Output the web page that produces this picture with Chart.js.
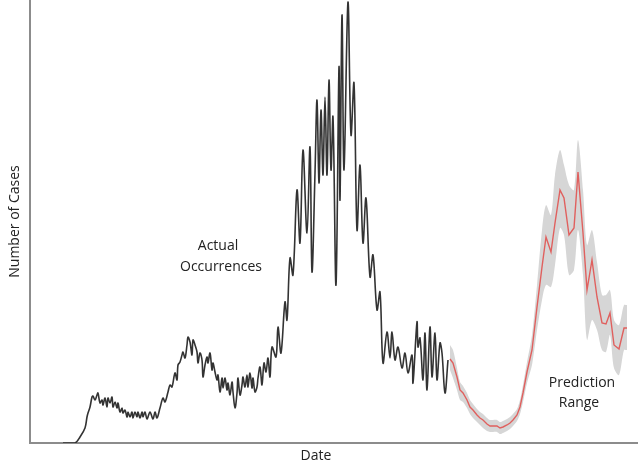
<!DOCTYPE html>
<html>
<head>
<meta charset="utf-8">
<script src="https://cdn.jsdelivr.net/npm/chart.js@4.4.0/dist/chart.umd.min.js"></script>
<style>
    html, body { margin: 0; padding: 0; background: #FFFFFF; }
    #wrap { position: relative; width: 641px; height: 468px; }
</style>
</head>
<body>
<div id="wrap"><canvas id="casesChart"></canvas></div>
<script>
// ==========================================
// Cases - actual occurrences vs prediction
// ==========================================

// actual occurrences (day index, number of cases)
const actualDays = [
    33, 45, 50, 55, 57, 58, 60, 62, 63, 65, 67, 68, 70, 72, 73, 75, 77, 78, 80, 82,
    83, 85, 87, 88, 90, 92, 93, 95, 97, 98, 100, 102, 103, 105, 107, 108, 110, 112, 113, 115,
    117, 120, 123, 125, 127, 130, 133, 135, 138, 140, 142, 145, 147, 148, 150, 152, 153, 155, 157, 158,
    160, 162, 163, 165, 167, 168, 170, 172, 173, 175, 177, 178, 180, 182, 183, 185, 187, 188, 190, 192,
    193, 195, 197, 198, 200, 202, 203, 205, 207, 208, 210, 212, 213, 215, 217, 218, 220, 222, 223, 225,
    227, 228, 230, 232, 234, 236, 238, 240, 242, 246, 248, 251, 255, 257, 260, 263, 267, 270, 273, 277,
    280, 282, 285, 287, 289, 291, 293, 295, 297, 299, 301, 303, 306, 309, 310, 312, 314, 318, 321, 324,
    327, 330, 333, 336, 340, 343, 347, 350, 353, 357, 360, 362, 365, 368, 372, 375, 378, 382, 383, 387,
    388, 390, 393, 395, 397, 400, 402, 405, 407, 410, 412, 415, 418
];
const actualCases = [
    0, 0, 6, 15, 26, 30, 36, 46, 47, 43, 48, 50, 40, 43, 38, 45, 36, 45, 40, 46,
    36, 41, 35, 40, 31, 35, 30, 33, 26, 31, 26, 31, 25, 31, 26, 31, 25, 31, 26, 31,
    24, 31, 24, 31, 25, 35, 45, 41, 51, 58, 56, 70, 63, 78, 81, 88, 91, 85, 98, 106,
    101, 88, 103, 98, 91, 80, 90, 83, 66, 78, 86, 80, 90, 73, 80, 71, 63, 68, 51, 65,
    55, 65, 53, 60, 48, 61, 51, 35, 50, 65, 48, 58, 66, 56, 68, 56, 70, 55, 65, 51,
    56, 65, 76, 58, 80, 71, 85, 66, 96, 86, 116, 90, 141, 123, 185, 168, 253, 200, 293, 210,
    296, 171, 270, 343, 260, 333, 268, 346, 268, 363, 273, 326, 158, 376, 243, 428, 273, 441, 308, 360,
    213, 278, 200, 245, 166, 188, 133, 151, 80, 111, 85, 111, 83, 96, 75, 90, 70, 88, 60, 121,
    96, 105, 63, 110, 53, 116, 66, 110, 63, 100, 90, 50, 83
];

// prediction (day index, predicted cases, range)
const predDays = [
    420, 423, 427, 430, 433, 437, 440, 443, 447, 450, 453, 457, 460, 463, 467, 470, 473, 477, 480, 483,
    487, 490, 493, 497, 502, 507, 512, 516, 521, 525, 530, 534, 539, 544, 548, 553, 557, 562, 567, 572,
    576, 580, 584, 589, 594, 597
];
const predCases = [
    84, 80, 66, 53, 50, 43, 36, 33, 28, 25, 23, 19, 17, 17, 17, 15, 16, 18, 20, 23,
    28, 36, 50, 71, 93, 136, 176, 206, 191, 220, 253, 245, 208, 215, 271, 210, 153, 183, 146, 120,
    119, 130, 98, 94, 115, 115
];
const predUpper = [
    98, 93, 75, 61, 57, 50, 43, 39, 34, 31, 29, 25, 23, 23, 23, 21, 22, 24, 26, 29,
    34, 43, 58, 81, 108, 158, 213, 238, 228, 268, 293, 278, 258, 253, 303, 253, 198, 213, 181, 148,
    148, 153, 123, 118, 138, 138
];
const predLower = [
    73, 65, 53, 43, 41, 35, 29, 25, 21, 18, 15, 12, 11, 11, 11, 9, 10, 12, 14, 17,
    22, 29, 41, 60, 78, 113, 143, 158, 156, 178, 215, 208, 168, 173, 213, 168, 103, 123, 113, 93,
    91, 108, 75, 68, 93, 93
];

const toPoints = (xs, ys) => xs.map((x, i) => ({ x: x, y: ys[i] }));

const textFont = "14px 'Open Sans', sans-serif";
const textColor = "#222222";

// axis titles and the two notes
const labelsPlugin = {
    id: "labels",
    afterDraw(chart) {
        const ctx = chart.ctx;
        const area = chart.chartArea;
        const x = chart.scales.x;
        const y = chart.scales.y;

        ctx.save();
        ctx.font = textFont;
        ctx.fillStyle = textColor;
        ctx.textAlign = "center";
        ctx.textBaseline = "middle";

        ctx.fillText("Actual", x.getPixelForValue(188), y.getPixelForValue(197));
        ctx.fillText("Occurrences", x.getPixelForValue(191), y.getPixelForValue(176));

        ctx.fillText("Prediction", x.getPixelForValue(552), y.getPixelForValue(60));
        ctx.fillText("Range", x.getPixelForValue(549), y.getPixelForValue(40));

        ctx.fillText("Date", 316, area.bottom + 13);

        ctx.translate(15, (area.top + area.bottom) / 2);
        ctx.rotate(-Math.PI / 2);
        ctx.fillText("Number of Cases", 0, 0);
        ctx.restore();
    }
};

const casesChart = new Chart(
    document.getElementById("casesChart"),
    {
        type: "line",

        data: {
            datasets: [
                {
                    label: "Actual",
                    data: toPoints(actualDays, actualCases),
                    borderColor: "#333333",
                    borderWidth: 1.6,
                    pointRadius: 0,
                    tension: 0.35,
                    fill: false,
                    order: 1
                },
                {
                    label: "Prediction",
                    data: toPoints(predDays, predCases),
                    borderColor: "#E0605E",
                    borderWidth: 1.4,
                    pointRadius: 0,
                    tension: 0,
                    fill: false,
                    order: 0
                },
                {
                    label: "Upper",
                    data: toPoints(predDays, predUpper),
                    borderWidth: 0,
                    borderColor: "rgba(0,0,0,0)",
                    backgroundColor: "#D6D6D6",
                    pointRadius: 0,
                    tension: 0.3,
                    fill: "+1",
                    order: 2
                },
                {
                    label: "Lower",
                    data: toPoints(predDays, predLower),
                    borderWidth: 0,
                    borderColor: "rgba(0,0,0,0)",
                    pointRadius: 0,
                    tension: 0.3,
                    fill: false,
                    order: 3
                }
            ]
        },

        options: {
            responsive: true,
            maintainAspectRatio: false,
            animation: false,
            layout: {
                padding: { left: 30, right: 4, top: 0, bottom: 25 }
            },
            plugins: {
                legend: { display: false },
                tooltip: { enabled: false }
            },
            scales: {
                x: {
                    type: "linear",
                    min: 0,
                    max: 607,
                    grid: { display: false, drawTicks: false },
                    ticks: { display: false },
                    border: { color: "#8C8C8C", width: 2 }
                },
                y: {
                    min: 0,
                    max: 443,
                    grid: { display: false, drawTicks: false },
                    ticks: { display: false },
                    border: { color: "#8C8C8C", width: 2 }
                }
            }
        },

        plugins: [labelsPlugin]
    }
);
</script>
</body>
</html>
